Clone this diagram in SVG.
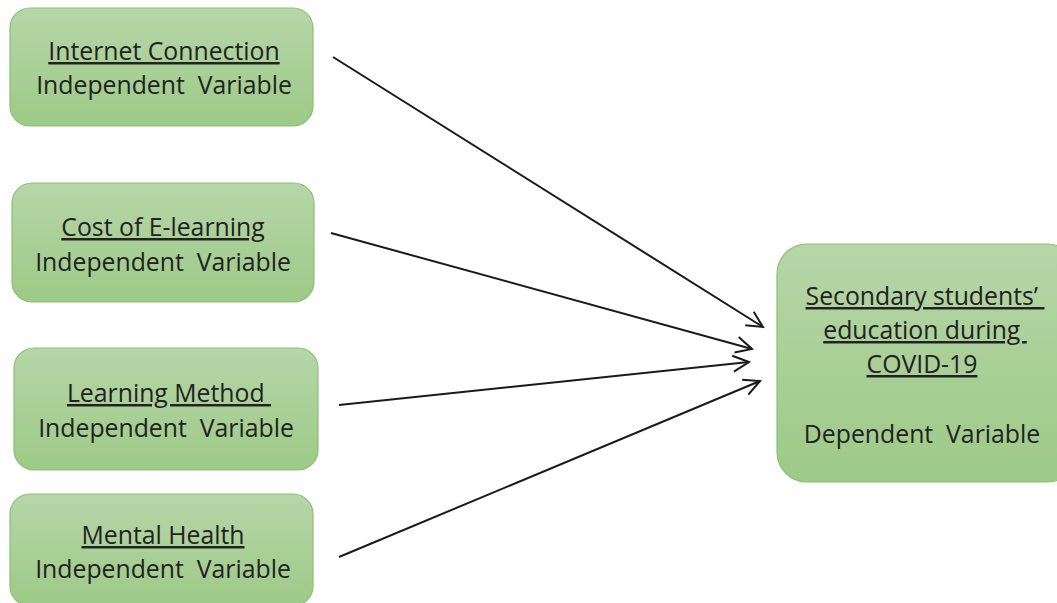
<svg xmlns="http://www.w3.org/2000/svg" width="1057" height="603" viewBox="0 0 1057 603">
<style>
.box{fill:url(#g);stroke:#8dbf72;stroke-width:1.2}
.t{font-family:"Open Sans","Noto Sans",sans-serif;font-size:24.8px;fill:#222;text-anchor:middle;white-space:pre}
.u{text-decoration:underline}
.c{stroke:#1a1a1a;stroke-width:2;fill:none}
</style>
<defs>
<linearGradient id="g" x1="0" y1="0" x2="0" y2="1">
<stop offset="0" stop-color="#b6d6a8"/>
<stop offset="1" stop-color="#9dca87"/>
</linearGradient>
<marker id="a" viewBox="0 0 20 20" refX="18" refY="10" markerWidth="20" markerHeight="20" markerUnits="userSpaceOnUse" orient="auto">
<path d="M2 2 L18 10 L2 18" fill="none" stroke="#1a1a1a" stroke-width="2"/>
</marker>
</defs>
<g id="n1">
<rect class="box" x="10" y="8" width="303" height="118" rx="20"/>
<text class="t u" x="164" y="60" xml:space="preserve">Internet Connection</text>
<text class="t" x="164" y="94" xml:space="preserve">Independent  Variable</text>
</g>
<g id="n2">
<rect class="box" x="12" y="183" width="302" height="119" rx="20"/>
<text class="t u" x="163" y="236" xml:space="preserve">Cost of E-learning</text>
<text class="t" x="163" y="271" xml:space="preserve">Independent  Variable</text>
</g>
<g id="n3">
<rect class="box" x="14" y="348" width="304" height="122" rx="20"/>
<text class="t u" x="169" y="402" xml:space="preserve">Learning Method </text>
<text class="t" x="166" y="437" xml:space="preserve">Independent  Variable</text>
</g>
<g id="n4">
<rect class="box" x="10" y="494" width="303" height="112" rx="20"/>
<text class="t u" x="163" y="544" xml:space="preserve">Mental Health</text>
<text class="t" x="163" y="578" xml:space="preserve">Independent  Variable</text>
</g>
<g id="n5">
<rect class="box" x="777" y="244" width="300" height="238" rx="30"/>
<text class="t u" x="925" y="305" xml:space="preserve">Secondary students’ </text>
<text class="t u" x="925" y="339" xml:space="preserve">education during </text>
<text class="t u" x="922" y="373" xml:space="preserve">COVID-19</text>
<text class="t" x="922" y="443" xml:space="preserve">Dependent  Variable</text>
</g>
<g id="connectors">
<line class="c" x1="333" y1="57" x2="763" y2="327" marker-end="url(#a)"/>
<line class="c" x1="331" y1="233" x2="752" y2="349" marker-end="url(#a)"/>
<line class="c" x1="339" y1="405" x2="749" y2="362" marker-end="url(#a)"/>
<line class="c" x1="339" y1="557" x2="760" y2="381" marker-end="url(#a)"/>
</g>
</svg>
